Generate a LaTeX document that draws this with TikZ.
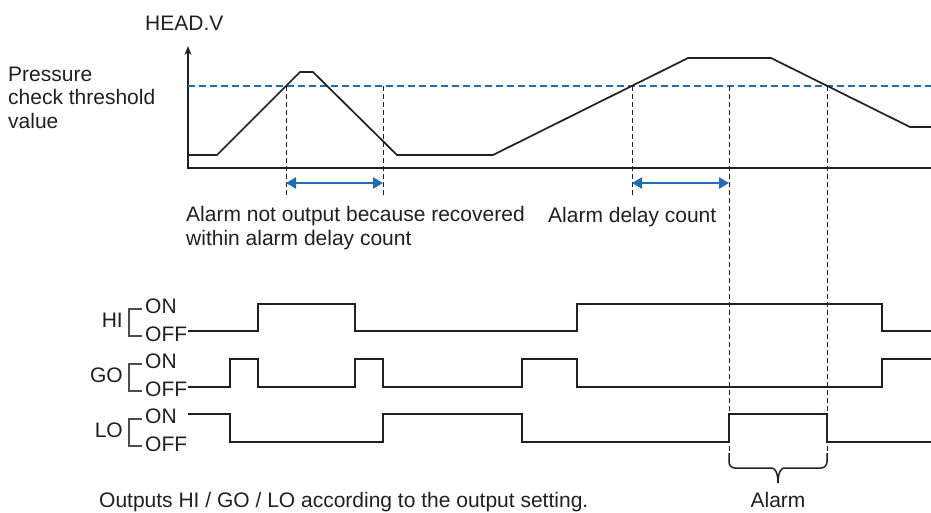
\documentclass[tikz,border=0pt]{standalone}
\usepackage{fontspec}
\setmainfont{Liberation Sans}
\usetikzlibrary{arrows.meta,calc,positioning}
\definecolor{threshblue}{HTML}{1F6EB4}
\definecolor{inkgray}{HTML}{231F20}

\begin{document}
\begin{tikzpicture}[
    x=1pt,y=-1pt,
    >=Stealth,
    lbl/.style={font=\fontsize{21}{23.5}\selectfont,text=inkgray,inner sep=0pt},
    signal/.style={draw=inkgray,line width=1.7pt},
    axisline/.style={draw=inkgray,line width=1.8pt},
    guide/.style={draw=inkgray,line width=0.9pt,dash pattern=on 5pt off 3pt},
    threshold/.style={draw=threshblue,line width=2pt,dash pattern=on 7pt off 4pt},
    delay/.style={draw=threshblue,line width=2.6pt,
        {Triangle[length=10pt,width=11pt]}-{Triangle[length=10pt,width=11pt]}},
    bracket/.style={draw=inkgray!80,line width=1.1pt},
    bracelines/.style={draw=inkgray,line width=1.5pt}
]
\useasboundingbox (0,0) rectangle (931,512);

% ===== Upper graph =====

% Titles
\node[lbl,anchor=base west] (headv) at (145,30) {HEAD.V};
\node[lbl,anchor=base west,align=left] (thresh) at (8,128)
    {Pressure\\check threshold\\value};

% Axes
\draw[axisline,{Stealth[length=9pt,width=7pt]}-]
    (188,46) -- (188,168) -- (931,168);

% Threshold line
\draw[threshold] (188,86) -- (931,86);

% HEAD.V curve
\draw[signal,line join=round]
    (188,155) -- (217,155) -- (300,72) -- (313,72) -- (397,155)
    -- (493,155) -- (688,58) -- (771,58) -- (910,127) -- (931,127);

% Guide lines
\foreach \gx in {286,383,632}
    \draw[guide] (\gx,86) -- (\gx,195);
\foreach \gx in {729,827}
    \draw[guide] (\gx,86) -- (\gx,455);

% Delay arrows
\coordinate (d1s) at (286,183);
\coordinate (d1e) at (383,183);
\coordinate (d2s) at (632,183);
\coordinate (d2e) at (729,183);
\draw[delay] (d1s) -- (d1e);
\draw[delay] (d2s) -- (d2e);

% Notes
\node[lbl,anchor=base west,align=left] (recovered) at (186,245)
    {Alarm not output because recovered\\within alarm delay count};
\node[lbl,anchor=base west] (delaycount) at (548,222) {Alarm delay count};


% ===== Output signals =====
\def\hiOn{304}  \def\hiOff{331}
\def\goOn{359}  \def\goOff{387}
\def\loOn{414}  \def\loOff{442}

% Labels with brackets
\foreach \name [count=\r from 0] in {HI,GO,LO}{
    \node[lbl,anchor=base east] (lbl\name) at (123,327+55*\r) {\name};
    \node[lbl,anchor=base west] (on\name) at (145,313+55*\r) {ON};
    \node[lbl,anchor=base west] (off\name) at (145,341+55*\r) {OFF};
    \draw[bracket] (142,309+55*\r) -- (129,309+55*\r)
        -- (129,336+55*\r) -- (142,336+55*\r);
}

% HI
\draw[signal]
    (188,\hiOff) -- (258,\hiOff) -- (258,\hiOn) -- (355,\hiOn)
    -- (355,\hiOff) -- (577,\hiOff) -- (577,\hiOn) -- (882,\hiOn)
    -- (882,\hiOff) -- (931,\hiOff);

% GO
\draw[signal]
    (188,\goOff) -- (230,\goOff) -- (230,\goOn) -- (258,\goOn)
    -- (258,\goOff) -- (355,\goOff) -- (355,\goOn) -- (383,\goOn)
    -- (383,\goOff) -- (522,\goOff) -- (522,\goOn) -- (577,\goOn)
    -- (577,\goOff) -- (882,\goOff) -- (882,\goOn) -- (931,\goOn);

% LO
\draw[signal]
    (188,\loOn) -- (230,\loOn) -- (230,\loOff) -- (383,\loOff)
    -- (383,\loOn) -- (522,\loOn) -- (522,\loOff) -- (729,\loOff)
    -- (729,\loOn) -- (827,\loOn) -- (827,\loOff) -- (931,\loOff);

% Alarm brace
\draw[bracelines] (729,453) [rounded corners=6pt] -- (729,468) -- (766,468)
    [sharp corners] .. controls (774,468) and (778,471) .. (778,483);
\draw[bracelines] (827,453) [rounded corners=6pt] -- (827,468) -- (790,468)
    [sharp corners] .. controls (782,468) and (778,471) .. (778,483);

% Bottom texts
\node[lbl,anchor=base] (alarm) at (778,507) {Alarm};
\node[lbl,anchor=base west] (outputs) at (99,507)
    {Outputs HI / GO / LO according to the output setting.};

\end{tikzpicture}
\end{document}
